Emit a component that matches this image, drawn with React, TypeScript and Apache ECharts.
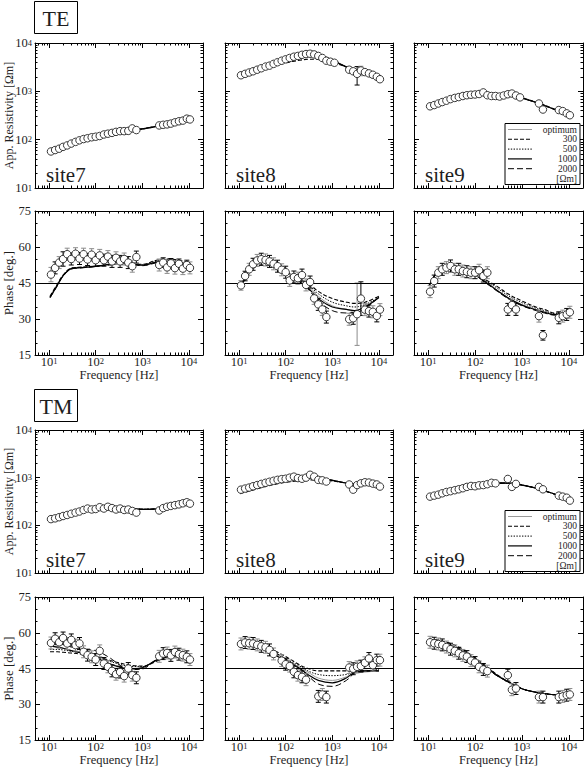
import { useEffect, useRef } from 'react';
import * as echarts from 'echarts';

const FONT = "'Liberation Serif', serif";
const INK = '#1e1e1e';

// ---------- tick values ----------
const xMajorTicks = [10, 100, 1000, 10000];
const xMinorTicks = [6, 7, 8, 9, 20, 30, 40, 50, 60, 70, 80, 90, 200, 300, 400, 500, 600, 700, 800, 900, 2000, 3000, 4000, 5000, 6000, 7000, 8000, 9000];
const rhoMajorTicks = [10, 100, 1000, 10000];
const rhoMinorTicks = [20, 30, 40, 50, 60, 70, 80, 90, 200, 300, 400, 500, 600, 700, 800, 900, 2000, 3000, 4000, 5000, 6000, 7000, 8000, 9000];
const sectionNames = ['TE', 'TM'];
const modelNames = ['optimum', '300', '500', '1000', '2000'];

// ---------- observed frequencies [Hz] ----------
const freqObs = [11, 13.5, 16.5, 20, 24.5, 30, 37, 45, 55, 67, 82, 100, 122, 150, 183, 224, 273, 334, 408, 500, 610, 745, 910, 1110, 2300, 2800, 3400, 4100, 5000, 6100, 7400, 9000, 10500];
// ---------- model frequencies [Hz] ----------
const freqModel = [10.5, 15, 20, 30, 50, 100, 200, 300, 500, 1000, 2000, 3000, 5000, 10000];

// ---------- TE apparent resistivity ----------
const teRho7 = [57, 61, 65, 71, 76, 83, 90, 97, 103, 107, 112, 115, 119, 128, 133, 138, 145, 150, 150, 152, 171, 158, null, null, 197, 203, 207, 215, 228, 240, 248, 272, 262];
const teRho8 = [2150, 2300, 2450, 2600, 2800, 3000, 3250, 3400, 3700, 4000, 4300, 4600, 4900, 5200, 5400, 5700, 5900, 6000, 5800, 5400, 4900, 4300, 4100, 3900, 2800, 2600, 2300, 2700, 2500, 2350, 2200, 2000, 1780];
const teRho8Err = [null, null, null, null, null, null, null, null, null, null, null, null, null, null, null, null, null, null, null, null, null, null, null, null, null, null, 950, 600, null, null, null, null, null];
const teRho9 = [490, 520, 560, 600, 640, 690, 730, 760, 800, 830, 850, 860, 880, 950, 830, 800, 800, 780, 820, 870, 900, 820, 750, null, 560, 420, null, null, null, 410, 390, 350, 320];

// ---------- TE phase ----------
const tePh7 = [48.5, 51.3, 53.5, 55, 57, 55, 57.2, 55.2, 57, 54.8, 56.8, 54.5, 56.5, 54.5, 56, 54, 55.5, 54, 55, 53.5, 52, 55.8, null, null, 52.5, 53.5, 51.5, 53.2, 51.2, 53, 51, 52.5, 51.3];
const tePh7Err = [3, 2.5, 2.5, 3, 2.5, 2.5, 2.5, 2.5, 2.5, 2.5, 2.5, 2.5, 2.5, 2.5, 2.5, 2.5, 2.5, 2.5, 2.5, 2.5, 2.5, 2.5, null, null, 2.5, 2, 2.5, 2, 2.5, 2, 2.5, 2, 2.5];
const tePh8 = [44, 47.9, 50.7, 52.8, 54.4, 54.9, 54.6, 54, 53, 52, 50.5, 49.5, 46.1, 47.5, 47, 48.3, 44.2, 45.4, 38.6, 36.1, 34, 30.8, null, null, 29.9, 30.3, 32, 38.5, 33.9, 33.3, 33, 31.3, 33.9];
const tePh8Err = [2, 2, 2.5, 2.5, 2.5, 2.5, 2.5, 2.5, 2.5, 2.5, 2.5, 2.5, 2.5, 2.5, 2.5, 2.5, 2.5, 2.5, 2.5, 2.5, 2.5, 2.5, null, null, 2.5, 2.5, 13, 7, 2.5, 2.5, 2.5, 2.5, 2.5];
const tePh9 = [41.4, 45.8, 49.3, 50.7, 51.4, 52.1, 50.7, 50.7, 50, 49.7, 49.3, 49.3, 50.3, 47.9, 49.3, null, null, null, null, 34, 35.8, 34, null, null, 31.2, 23.2, null, null, null, 30.5, 31.2, 31.9, 32.8];
const tePh9Err = [2.5, 2.5, 2.5, 2.5, 2.5, 2.5, 2.5, 2.5, 2.5, 2.5, 2.5, 2.5, 2.5, 2.5, 2.5, null, null, null, null, 2.5, 2.5, 2.5, null, null, 2.5, 2, null, null, null, 2.5, 2.5, 2.5, 2.5];

// ---------- TM apparent resistivity ----------
const tmRho7 = [135, 140, 148, 157, 165, 175, 185, 195, 210, 225, 215, 220, 240, 225, 245, 230, 215, 225, 210, 215, 200, 185, null, null, 205, 230, 245, 255, 265, 275, 290, 305, 285];
const tmRho8 = [560, 590, 620, 660, 700, 740, 780, 820, 860, 900, 930, 950, 1000, 1050, 980, 950, 1000, 1150, 1050, 900, 880, 830, null, null, 720, 560, 700, 760, 800, 790, 750, 720, 650];
const tmRho9 = [400, 420, 440, 470, 500, 520, 545, 570, 600, 640, 670, 660, 690, 700, 730, 780, 760, null, null, 940, 640, 740, null, null, 640, 570, null, null, null, 420, 400, 380, 330];

// ---------- TM phase ----------
const tmPh7 = [55.7, 57.5, 56, 57.8, 55.5, 57, 54.8, 55.5, 52, 50.6, 49.9, 48.75, 52.4, 47.1, 45.7, 44, 42.6, 43.5, 41.8, 45, 42.2, 41.1, null, null, 50.1, 51.25, 51.5, 50.5, 51.9, 51, 50.6, 49.9, 48.75];
const tmPh7Err = [2.5, 2.5, 2.5, 2.5, 2.5, 2.5, 2.5, 2.5, 2.5, 2.5, 2.5, 2.5, 2.5, 2.5, 2.5, 2.5, 2.5, 2.5, 2.5, 2.5, 2.5, 2.5, null, null, 2.5, 2.5, 2.5, 2.5, 2.5, 2.5, 2.5, 2.5, 2.5];
const tmPh8 = [55.3, 55.9, 55.6, 55.5, 54.9, 54.3, 53.9, 52.8, 51.1, null, 48.3, 46.8, 46, 43.6, 42.2, 41.5, 40.3, null, null, 33.3, 34.1, 33, null, null, 45.4, 44.9, 45.7, 46, 47.4, 49.2, 46.4, 48.5, 48.5];
const tmPh8Err = [2.5, 2.5, 2.5, 2.5, 2.5, 2.5, 2.5, 2.5, 2.5, null, 2.5, 2.5, 2.5, 2.5, 2.5, 2.5, 2.5, null, null, 2.5, 2.5, 2.5, null, null, 2.5, 2.5, 2.5, 2.5, 2.5, 2.5, 2.5, 2.5, 2.5];
const tmPh9 = [56, 55.6, 55.3, 54.9, 54, 53.1, 52.4, 51.4, 50.5, 50, 48.3, 47.5, 45.7, 44.6, 43.9, null, null, null, null, 42.2, 36.1, 36.6, null, null, 33, 33, null, null, null, 33, 33.3, 33.8, 34.1];
const tmPh9Err = [2.5, 2.5, 2.5, 2.5, 2.5, 2.5, 2.5, 2.5, 2.5, 2.5, 2.5, 2.5, 2.5, 2.5, 2.5, null, null, null, null, 2.5, 2.5, 2.5, null, null, 2.5, 2.5, null, null, null, 2.5, 2.5, 2.5, 2.5];

// ---------- model curves: [optimum, 300, 500, 1000, 2000] ----------
const teRho7Curves = [
  [62, 67, 72, 81, 96, 113, 133, 143, 153, 166, 188, 203, 225, 262],
  [63, 68, 72, 81, 95, 112, 131, 141, 151, 165, 186, 201, 224, 260],
  [62, 67, 72, 81, 96, 113, 132, 142, 152, 166, 187, 202, 225, 261],
  [62, 67, 72, 81, 96, 114, 134, 144, 154, 167, 189, 204, 226, 263],
  [61, 66, 72, 82, 97, 115, 135, 145, 155, 168, 190, 205, 227, 264],
];
const teRho8Curves = [
  [2100, 2350, 2600, 3000, 3500, 4400, 5300, 5700, 5600, 4400, 3200, 2750, 2350, 1850],
  [2100, 2330, 2550, 2900, 3300, 3900, 4400, 4600, 4600, 4000, 3200, 2800, 2400, 1900],
  [2100, 2340, 2580, 2950, 3400, 4150, 4900, 5200, 5200, 4250, 3200, 2780, 2370, 1880],
  [2100, 2350, 2600, 3000, 3500, 4400, 5300, 5700, 5600, 4400, 3200, 2750, 2350, 1850],
  [2100, 2360, 2620, 3050, 3600, 4550, 5500, 5900, 5750, 4450, 3180, 2730, 2330, 1830],
];
const teRho9Curves = [
  [480, 540, 590, 660, 740, 830, 870, 860, 820, 720, 590, 510, 420, 320],
  [485, 545, 590, 655, 730, 810, 850, 850, 820, 730, 600, 520, 425, 325],
  [480, 540, 590, 660, 735, 820, 860, 855, 820, 725, 595, 515, 422, 322],
  [480, 540, 590, 660, 740, 830, 870, 860, 820, 720, 590, 510, 420, 320],
  [478, 540, 592, 665, 745, 840, 880, 865, 820, 715, 585, 505, 418, 318],
];
const tePh7Curves = [
  [39, 44, 48, 51, 51.5, 52, 52.8, 53.2, 53, 52.5, 53.8, 54.2, 53.8, 52.5],
  [39.5, 44.5, 48.3, 51.2, 51.6, 52, 52.5, 53, 52.8, 52.8, 54.5, 55, 54.8, 53.5],
  [39.3, 44.2, 48.1, 51.1, 51.5, 52, 52.7, 53.1, 53, 52.6, 54.1, 54.6, 54.3, 53],
  [39, 44, 48, 51, 51.4, 51.9, 52.8, 53.3, 53.1, 52.4, 53.7, 54, 53.6, 52.3],
  [38.8, 43.8, 47.8, 50.8, 51.3, 51.9, 52.9, 53.4, 53.2, 52.2, 53.4, 53.7, 53.2, 52],
];
const tePh8Curves = [
  [43, 49, 52.5, 54.5, 53.5, 50, 46, 44, 39.5, 35.5, 34, 33.5, 35, 39],
  [43, 48, 51, 52.5, 52, 49.5, 46.5, 45, 41.5, 38.5, 37, 36.5, 37, 39.5],
  [43, 48.5, 52, 53.5, 53, 50, 46, 44.5, 40.5, 37, 35.5, 35, 36, 39],
  [43, 49, 52.5, 54.5, 53.5, 50, 45.5, 43, 38.5, 35, 34, 33.5, 35, 39],
  [43, 49.5, 53, 55, 54, 50.5, 45.5, 42.5, 37.5, 33.5, 32.5, 32.5, 34.5, 39],
];
const tePh9Curves = [
  [44, 49, 51, 52, 51, 48.5, 44.5, 42, 39, 36, 34, 33, 32, 32],
  [44, 48, 50, 51, 50.5, 48.5, 45.5, 43.5, 40.5, 37.5, 35, 34, 32.5, 32.5],
  [44, 48.5, 50.5, 51.5, 50.8, 48.5, 45, 42.8, 39.8, 36.8, 34.5, 33.5, 32.2, 32.2],
  [44, 49, 51, 52, 51, 48.3, 44.3, 41.8, 38.8, 35.8, 33.8, 32.8, 31.8, 31.8],
  [44, 49.5, 51.5, 52.5, 51.3, 48.2, 44, 41.5, 38.5, 35.5, 33.5, 32.5, 31.6, 31.7],
];
const tmRho7Curves = [
  [133, 145, 155, 170, 190, 215, 228, 230, 225, 218, 220, 235, 260, 290],
  [135, 146, 156, 170, 188, 210, 222, 225, 222, 218, 222, 236, 260, 288],
  [134, 145, 155, 170, 189, 213, 226, 228, 224, 218, 221, 235, 260, 289],
  [133, 145, 155, 170, 190, 215, 228, 230, 225, 217, 220, 234, 260, 290],
  [132, 144, 155, 171, 191, 217, 231, 232, 226, 216, 219, 234, 260, 291],
];
const tmRho8Curves = [
  [540, 590, 630, 700, 790, 900, 970, 990, 970, 880, 770, 730, 710, 670],
  [460, 510, 550, 620, 700, 800, 870, 900, 900, 850, 770, 740, 715, 670],
  [500, 550, 590, 660, 750, 860, 930, 950, 940, 870, 770, 735, 712, 670],
  [540, 590, 630, 700, 790, 900, 970, 990, 970, 880, 770, 730, 710, 670],
  [560, 610, 650, 720, 810, 930, 1000, 1020, 990, 885, 765, 725, 708, 668],
];
const tmRho9Curves = [
  [400, 430, 455, 500, 560, 650, 730, 770, 770, 700, 600, 530, 450, 340],
  [405, 435, 460, 500, 555, 640, 715, 755, 765, 705, 605, 535, 452, 342],
  [402, 432, 457, 500, 558, 645, 722, 762, 768, 702, 602, 532, 451, 341],
  [400, 430, 455, 500, 560, 650, 730, 770, 770, 700, 600, 530, 450, 340],
  [398, 428, 455, 502, 563, 655, 738, 778, 772, 698, 598, 528, 449, 339],
];
const tmPh7Curves = [
  [54.5, 54, 53.5, 52.5, 51.5, 49.5, 47, 46, 45, 45.5, 48.5, 49.5, 50, 49.5],
  [52, 52, 51.8, 51.5, 51, 50, 48.5, 47.5, 46.5, 46, 48, 49.5, 50.5, 50],
  [53, 53, 52.8, 52.2, 51.5, 50, 48, 47, 46, 45.8, 48.2, 49.5, 50.3, 49.8],
  [54.5, 54, 53.5, 52.5, 51.5, 49.5, 47, 45.8, 44.8, 45.3, 48.5, 49.5, 50, 49.5],
  [56, 55.5, 55, 54, 53, 52.5, 49.5, 47, 44.5, 44.8, 48.7, 49.8, 50, 49.3],
];
const tmPh8Curves = [
  [55.5, 55, 54.5, 53.5, 51.5, 48.5, 45.5, 43.5, 41, 40, 41.5, 43, 43.5, 44],
  [55, 55, 55, 54.5, 53, 50, 46.5, 45, 44, 44, 44, 44, 44, 44.5],
  [55, 55, 54.5, 54, 52, 49, 46, 44, 42.5, 42, 42.5, 43.5, 44, 44.5],
  [55.5, 55, 54.5, 53.5, 51.5, 48, 45, 42.5, 40, 39, 41, 43.5, 44, 44],
  [55.5, 55.5, 55, 54.5, 52.5, 49, 45, 42, 38.5, 37.5, 40, 43, 44, 44],
];
const tmPh9Curves = [
  [56, 56, 55.5, 54.5, 52.5, 48.5, 44.5, 42, 39.5, 36.5, 35, 34.5, 34, 34.5],
  [57, 57, 56.5, 55.5, 53.5, 49.5, 45, 42.3, 39.5, 36.5, 35, 34.5, 34, 34.5],
  [56.5, 56.5, 56, 55, 53, 49, 44.8, 42.2, 39.5, 36.5, 35, 34.5, 34, 34.5],
  [56, 56, 55.5, 54.5, 52.5, 48.5, 44.5, 42, 39.5, 36.5, 35, 34.5, 34, 34.5],
  [55.5, 55.5, 55, 54, 52, 48, 44.2, 41.8, 39.5, 36.5, 35, 34.5, 34, 34.5],
];

// ---------- panels ----------
const panelDefs = [
  { section: 0, col: 0, kind: 'rho', site: 'site7', obs: teRho7, err: null, curves: teRho7Curves },
  { section: 0, col: 1, kind: 'rho', site: 'site8', obs: teRho8, err: teRho8Err, curves: teRho8Curves },
  { section: 0, col: 2, kind: 'rho', site: 'site9', obs: teRho9, err: null, curves: teRho9Curves },
  { section: 0, col: 0, kind: 'phase', site: '', obs: tePh7, err: tePh7Err, curves: tePh7Curves },
  { section: 0, col: 1, kind: 'phase', site: '', obs: tePh8, err: tePh8Err, curves: tePh8Curves },
  { section: 0, col: 2, kind: 'phase', site: '', obs: tePh9, err: tePh9Err, curves: tePh9Curves },
  { section: 1, col: 0, kind: 'rho', site: 'site7', obs: tmRho7, err: null, curves: tmRho7Curves },
  { section: 1, col: 1, kind: 'rho', site: 'site8', obs: tmRho8, err: null, curves: tmRho8Curves },
  { section: 1, col: 2, kind: 'rho', site: 'site9', obs: tmRho9, err: null, curves: tmRho9Curves },
  { section: 1, col: 0, kind: 'phase', site: '', obs: tmPh7, err: tmPh7Err, curves: tmPh7Curves },
  { section: 1, col: 1, kind: 'phase', site: '', obs: tmPh8, err: tmPh8Err, curves: tmPh8Curves },
  { section: 1, col: 2, kind: 'phase', site: '', obs: tmPh9, err: tmPh9Err, curves: tmPh9Curves },
];

// ---------- layout & styles ----------
const colLeft = [35, 225, 414];
const colWidth = [168, 168, 169];
const rowTop = [43, 211, 430, 597];
const rowHeight = [145, 144, 143, 143];
const sectionBoxTop = [1.5, 389.5];

const curveStyles: any[] = [
  { color: '#9a9a9a', width: 1, type: 'solid' },
  { color: '#000', width: 1.1, type: [4, 2] },
  { color: '#000', width: 1, type: [1.4, 1.4] },
  { color: '#000', width: 1.2, type: 'solid' },
  { color: '#000', width: 1, type: [6, 3] },
];

const axisLineStyle = { color: '#000', width: 1 };
const labelRich: any = {
  b: { fontFamily: FONT, fontSize: 12.5, color: INK, lineHeight: 10 },
  s: { fontFamily: FONT, fontSize: 8.5, color: INK, lineHeight: 3, verticalAlign: 'top' },
};
const powLabel = (v: number) => '{b|10}{s|' + Math.round(Math.log10(v)) + '}';
const nameStyle = { fontFamily: FONT, fontSize: 12.5, lineHeight: 12, color: INK };

function buildOption() {
  const grid: any[] = [];
  const xAxis: any[] = [];
  const yAxis: any[] = [];
  const series: any[] = [];
  const graphic: any[] = [];

  panelDefs.forEach((p, gi) => {
    const isPhase = p.kind === 'phase';
    const row = p.section * 2 + (isPhase ? 1 : 0);
    const left = colLeft[p.col];
    const top = rowTop[row];
    const width = colWidth[p.col];
    const height = rowHeight[row];
    grid.push({ left, top, width, height, containLabel: false, outerBoundsMode: 'none', show: false });

    const xi = xAxis.length;
    const xCommon = {
      gridIndex: gi, type: 'log', logBase: 10, min: 5, max: 20000,
      splitLine: { show: false }, minorTick: { show: false }, minorSplitLine: { show: false },
    };
    xAxis.push({
      ...xCommon, position: 'bottom',
      axisLine: { show: true, onZero: false, lineStyle: axisLineStyle },
      axisTick: { show: true, inside: true, length: 5, customValues: xMajorTicks, lineStyle: axisLineStyle },
      axisLabel: { show: isPhase, customValues: xMajorTicks, formatter: powLabel, rich: labelRich, margin: 1.5 },
      name: isPhase ? 'Frequency [Hz]' : '', nameLocation: 'middle', nameGap: 13.5, nameMoveOverlap: false,
      nameTextStyle: nameStyle,
    });
    xAxis.push({
      ...xCommon, position: 'bottom',
      axisLine: { show: false },
      axisTick: { show: true, inside: true, length: 2.5, customValues: xMinorTicks, lineStyle: axisLineStyle },
      axisLabel: { show: false },
    });
    xAxis.push({
      ...xCommon, position: 'top',
      axisLine: { show: true, onZero: false, lineStyle: axisLineStyle },
      axisTick: { show: true, inside: true, length: 5, customValues: xMajorTicks, lineStyle: axisLineStyle },
      axisLabel: { show: false },
    });
    xAxis.push({
      ...xCommon, position: 'top',
      axisLine: { show: false },
      axisTick: { show: true, inside: true, length: 2.5, customValues: xMinorTicks, lineStyle: axisLineStyle },
      axisLabel: { show: false },
    });

    const yi = yAxis.length;
    if (!isPhase) {
      const yCommon = {
        gridIndex: gi, type: 'log', logBase: 10, min: 10, max: 10000,
        splitLine: { show: false }, minorTick: { show: false }, minorSplitLine: { show: false },
      };
      yAxis.push({
        ...yCommon, position: 'left',
        axisLine: { show: true, onZero: false, lineStyle: axisLineStyle },
        axisTick: { show: true, inside: true, length: 5, customValues: rhoMajorTicks, lineStyle: axisLineStyle },
        axisLabel: { show: p.col === 0, customValues: rhoMajorTicks, formatter: powLabel, rich: labelRich, margin: 3 },
        name: p.col === 0 ? 'App. Resistivity [Ωm]' : '', nameLocation: 'middle', nameRotate: 90, nameGap: 20,
        nameMoveOverlap: false,
        nameTextStyle: { ...nameStyle, fontSize: 12, lineHeight: 12 },
      });
      yAxis.push({
        ...yCommon, position: 'left',
        axisLine: { show: false },
        axisTick: { show: true, inside: true, length: 2.5, customValues: rhoMinorTicks, lineStyle: axisLineStyle },
        axisLabel: { show: false },
      });
      yAxis.push({
        ...yCommon, position: 'right',
        axisLine: { show: true, onZero: false, lineStyle: axisLineStyle },
        axisTick: { show: true, inside: true, length: 5, customValues: rhoMajorTicks, lineStyle: axisLineStyle },
        axisLabel: { show: false },
      });
      yAxis.push({
        ...yCommon, position: 'right',
        axisLine: { show: false },
        axisTick: { show: true, inside: true, length: 2.5, customValues: rhoMinorTicks, lineStyle: axisLineStyle },
        axisLabel: { show: false },
      });
    } else {
      const yCommon = {
        gridIndex: gi, type: 'value', min: 15, max: 75, interval: 15,
        splitLine: { show: false }, minorSplitLine: { show: false },
        minorTick: { show: true, splitNumber: 3, length: 2.5, lineStyle: axisLineStyle },
      };
      yAxis.push({
        ...yCommon, position: 'left',
        axisLine: { show: true, onZero: false, lineStyle: axisLineStyle },
        axisTick: { show: true, inside: true, length: 5, lineStyle: axisLineStyle },
        axisLabel: { show: p.col === 0, fontFamily: FONT, fontSize: 12.5, color: INK, margin: 4 },
        name: p.col === 0 ? 'Phase [deg.]' : '', nameLocation: 'middle', nameRotate: 90, nameGap: 20,
        nameMoveOverlap: false,
        nameTextStyle: { ...nameStyle, fontSize: 13, lineHeight: 13 },
      });
      yAxis.push({
        ...yCommon, position: 'right',
        axisLine: { show: true, onZero: false, lineStyle: axisLineStyle },
        axisTick: { show: true, inside: true, length: 5, lineStyle: axisLineStyle },
        axisLabel: { show: false },
      });
    }

    // model curves
    p.curves.forEach((vals, ci) => {
      const s: any = {
        type: 'line', name: modelNames[ci], xAxisIndex: xi, yAxisIndex: yi,
        data: freqModel.map((f, k) => [f, vals[k]]),
        smooth: 0.35, symbol: 'none', silent: true, z: 3,
        lineStyle: { ...curveStyles[ci], opacity: 1 },
      };
      if (isPhase && ci === 0) {
        s.markLine = {
          silent: true, symbol: ['none', 'none'], label: { show: false },
          lineStyle: { color: '#000', width: 1, type: 'solid', opacity: 1 },
          data: [{ yAxis: 45 }],
        };
      }
      series.push(s);
    });

    // error bars (alternating black / grey)
    if (p.err) {
      const errData: any[] = [];
      freqObs.forEach((f, k) => {
        const v = p.obs[k];
        const e = p.err![k];
        if (v != null && e != null) errData.push([f, v, e, k]);
      });
      const parity = isPhase ? 1 : 0;
      series.push({
        type: 'custom', xAxisIndex: xi, yAxisIndex: yi, z: 4, silent: true,
        encode: { x: 0, y: 1 },
        data: errData,
        renderItem: (_params: any, api: any) => {
          const f = api.value(0);
          const v = api.value(1);
          const e = api.value(2);
          const k = api.value(3);
          const lo = api.coord([f, v - e]);
          const hi = api.coord([f, v + e]);
          const cap = 2.5;
          const color = (k + parity) % 2 === 0 ? '#000' : '#8c8c8c';
          const st = { stroke: color, lineWidth: 1 };
          return {
            type: 'group',
            children: [
              { type: 'line', shape: { x1: lo[0], y1: lo[1], x2: hi[0], y2: hi[1] }, style: st },
              { type: 'line', shape: { x1: lo[0] - cap, y1: lo[1], x2: lo[0] + cap, y2: lo[1] }, style: st },
              { type: 'line', shape: { x1: hi[0] - cap, y1: hi[1], x2: hi[0] + cap, y2: hi[1] }, style: st },
            ],
          };
        },
      });
    }

    // observed points
    const pts: any[] = [];
    freqObs.forEach((f, k) => {
      const v = p.obs[k];
      if (v != null) pts.push([f, v]);
    });
    series.push({
      type: 'scatter', xAxisIndex: xi, yAxisIndex: yi, z: 5, silent: true,
      data: pts, symbol: 'circle', symbolSize: 7.5,
      itemStyle: { color: '#ffffff', borderColor: '#222', borderWidth: 0.9, opacity: 1 },
    });

    // site label
    if (!isPhase) {
      graphic.push({
        type: 'text', x: left + 11, y: top + height - 13, z: 60,
        style: { text: p.site, font: '21px ' + FONT, fontFamily: FONT, fontSize: 21, fill: INK, align: 'left', verticalAlign: 'middle' },
      });
    }

    // legend box
    if (!isPhase && p.col === 2) {
      const right = left + width;
      graphic.push({
        type: 'rect', z: 60,
        shape: { x: right - 78, y: top + 80.5, width: 75, height: 61 },
        style: { fill: '#fff', stroke: '#000', lineWidth: 1 },
      });
      modelNames.forEach((nm, k) => {
        const yy = top + 86.5 + k * 9.8;
        const cs = curveStyles[k];
        graphic.push({
          type: 'line', z: 61,
          shape: { x1: right - 75, y1: yy, x2: right - 51, y2: yy },
          style: { stroke: cs.color, lineWidth: cs.width, lineDash: Array.isArray(cs.type) ? cs.type : null },
        });
        graphic.push({
          type: 'text', x: right - 6, y: yy, z: 61,
          style: { text: nm, font: '9.5px ' + FONT, fontFamily: FONT, fontSize: 9.5, fill: INK, align: 'right', verticalAlign: 'middle' },
        });
      });
      graphic.push({
        type: 'text', x: right - 6, y: top + 86.5 + 5 * 9.8, z: 61,
        style: { text: '[Ωm]', font: '9.5px ' + FONT, fontFamily: FONT, fontSize: 9.5, fill: INK, align: 'right', verticalAlign: 'middle' },
      });
    }
  });

  sectionNames.forEach((nm, i) => {
    graphic.push({
      type: 'rect', z: 60,
      shape: { x: 34.5, y: sectionBoxTop[i], width: 43, height: 32 },
      style: { fill: '#fff', stroke: '#000', lineWidth: 1 },
    });
    graphic.push({
      type: 'text', x: 56, y: sectionBoxTop[i] + 16.5, z: 61,
      style: { text: nm, font: '22px ' + FONT, fontFamily: FONT, fontSize: 22, fill: INK, align: 'center', verticalAlign: 'middle' },
    });
  });

  return {
    animation: false,
    backgroundColor: '#fff',
    textStyle: { fontFamily: FONT },
    grid, xAxis, yAxis, series, graphic,
  };
}

export default function App() {
  const ref = useRef<HTMLDivElement>(null);
  useEffect(() => {
    if (!ref.current) return;
    const chart = echarts.init(ref.current, null, { renderer: 'svg' });
    chart.setOption(buildOption() as any);
    return () => chart.dispose();
  }, []);
  return (
    <div
      ref={ref}
      style={{ position: 'absolute', left: 0, top: 0, width: 585, height: 767, background: '#fff' }}
    />
  );
}
